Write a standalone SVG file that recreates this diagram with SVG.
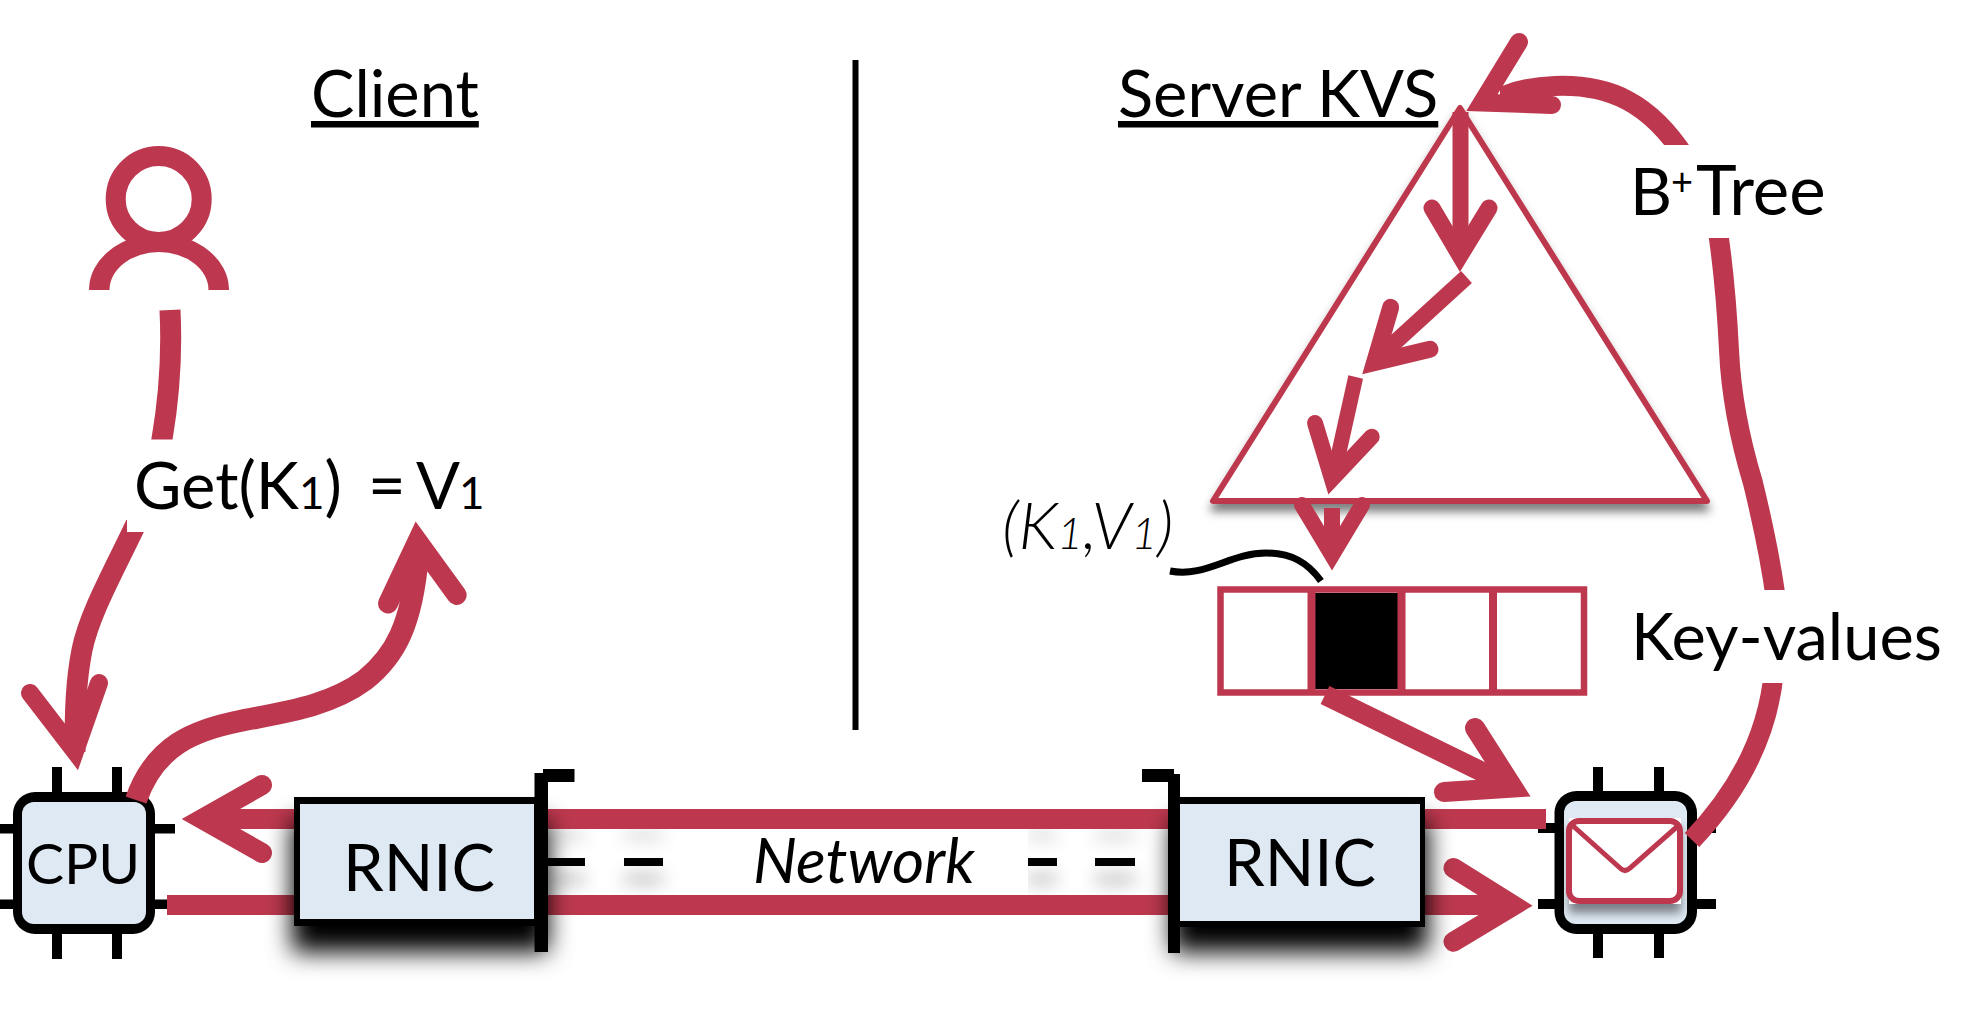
<svg xmlns="http://www.w3.org/2000/svg" width="1966" height="1022" viewBox="0 0 1966 1022">
<style>
text{font-family:Lato,"Liberation Sans",sans-serif;fill:#000}
.lbl{font-size:65px}
.sub{font-size:44px}
.u{text-decoration:underline;text-decoration-thickness:4px;text-underline-offset:4px}
.blk{fill:#000;stroke:none}
.chip{fill:#dfe9f3;stroke:none}
.c{fill:none;stroke:#bd384e;stroke-linecap:butt;stroke-linejoin:miter}
.h{fill:none;stroke:#bd384e;stroke-linecap:round;stroke-linejoin:miter;stroke-miterlimit:6}
.red{fill:#bd384e;stroke:none}
.sh{fill:#000;filter:url(#blur)}
</style>
<defs>
<filter id="blur" x="-30%" y="-40%" width="160%" height="180%"><feGaussianBlur stdDeviation="12"/></filter>
<filter id="ts" x="-10%" y="-10%" width="120%" height="125%"><feDropShadow dx="0" dy="8" stdDeviation="5" flood-color="#000" flood-opacity=".5"/></filter>
<filter id="es" x="-20%" y="-20%" width="140%" height="150%"><feDropShadow dx="0" dy="9" stdDeviation="5" flood-color="#000" flood-opacity=".45"/></filter>
<filter id="ds" x="-30%" y="-1000%" width="160%" height="2200%">
<feGaussianBlur in="SourceAlpha" stdDeviation="9" result="b"/>
<feOffset in="b" dy="17" result="o1"/><feOffset in="b" dy="-27" result="o2"/>
<feComponentTransfer in="o1" result="s1"><feFuncA type="linear" slope=".35"/></feComponentTransfer>
<feComponentTransfer in="o2" result="s2"><feFuncA type="linear" slope=".2"/></feComponentTransfer>
<feMerge><feMergeNode in="s1"/><feMergeNode in="s2"/><feMergeNode in="SourceGraphic"/></feMerge>
</filter>
<clipPath id="cutL"><polygon points="0,532 127,532 127,520 60,520 60,1000 300,1000 300,532"/></clipPath>
<clipPath id="cutP"><rect x="100" y="300" width="120" height="139.5"/></clipPath>
<clipPath id="cutR"><rect x="1500" y="40" width="400" height="105"/><rect x="1600" y="238" width="300" height="352"/><rect x="1600" y="683" width="300" height="200"/></clipPath>
</defs>

<g id="divider"><rect class="blk" x="852.500" y="60" width="6" height="670"/></g>

<g id="client-title"><text class="lbl u" x="311" y="117">Client</text></g>
<g id="server-title"><text class="lbl u" x="1118" y="117">Server KVS</text></g>

<g id="user">
<circle cx="158.700" cy="199" r="43" fill="none" stroke="#bd384e" stroke-width="20"/>
<path class="red" d="M89,290A70,56 0 0 1 229,290L208.500,290A49.500,38 0 0 0 109.500,290Z"/>
</g>

<g id="client-cpu">
<path class="blk" d="M52,767h10v30h-10zM112,767h10v30h-10zM52,930h10v29h-10zM112,930h10v29h-10zM0,824h20v9.500h-20zM150,824h25v9.500h-25zM0,899.500h20v9.500h-20zM150,899.500h25v9.500h-25z"/>
<rect class="blk" x="13" y="792" width="142" height="142" rx="22"/>
<rect class="chip" x="22" y="802" width="124" height="122" rx="12"/>
<text x="26" y="884" font-size="57">CPU</text>
</g>

<g id="server-cpu">
<path class="blk" d="M1593,767h10v30h-10zM1654,767h10v30h-10zM1593,930h10v28h-10zM1654,930h10v28h-10zM1538,823h20v10h-20zM1690,823h26v10h-26zM1538,899h20v10h-20zM1690,899h26v10h-26z"/>
<rect class="blk" x="1554.500" y="791" width="142.500" height="143" rx="22"/>
<rect class="chip" x="1564" y="801" width="123" height="123" rx="12"/>
<g id="envelope">
<rect x="1569" y="818" width="112" height="86" fill="#fff" filter="url(#es)"/>
<rect x="1569" y="821" width="111" height="80" rx="10" fill="#fff" stroke="#bd384e" stroke-width="6"/>
<path d="M1572,825L1620,868Q1625,873 1630,868L1679,825" fill="none" stroke="#bd384e" stroke-width="5"/>
</g>
</g>

<g id="btree"><path d="M1460,108L1213,501L1707,501Z" fill="#fff" stroke="#bd384e" stroke-width="6" stroke-linejoin="round" filter="url(#ts)"/></g>

<g id="kv-array">
<rect x="1315" y="593" width="83" height="96" fill="#000"/>
<rect x="1220.500" y="589.500" width="363.500" height="103" fill="none" stroke="#bd384e" stroke-width="6.500"/>
<path d="M1311.500,589V693M1401.500,589V693M1493,589V693" stroke="#bd384e" stroke-width="8" fill="none"/>
</g>

<g id="btree-label"><text class="lbl" x="1630" y="215">B<tspan font-size="38" x="1671" dy="-20">+</tspan><tspan x="1696" dy="20" font-size="69">Tree</tspan></text></g>
<g id="kv-label"><text class="lbl" x="1631" y="660">Key-values</text></g>
<g id="kv-pair-label"><text x="1002" y="549" font-size="66" font-style="italic" font-weight="300">(K<tspan font-size="44">1</tspan>,V<tspan font-size="44">1</tspan>)</text></g>
<g id="get-label"><text class="lbl" x="134" y="509">Get(K<tspan class="sub">1</tspan>)<tspan x="368">=</tspan><tspan x="416">V</tspan><tspan class="sub" x="459">1</tspan></text></g>

<g id="network-dashes" filter="url(#ds)">
<path class="blk" d="M548,858h37v8h-37zM624,858h39v8h-39zM1027,858h30v8h-30zM1095,858h40v8h-40z"/>
</g>

<g id="connectors">
<path class="c" stroke-width="21" d="M170,310C172,350 170,395 161,445" clip-path="url(#cutP)"/>
<path class="c" stroke-width="21" d="M145,505C120,560 90,610 82,650C76,680 75,710 75,752" clip-path="url(#cutL)"/>
<path class="h" stroke-width="18" d="M30,693L75,751.500L99,683"/>
<path class="c" stroke-width="22" d="M136,800C155,745 195,730 240,721C285,712 330,706 365,680C395,656 412,625 418,555"/>
<path class="h" stroke-width="20" d="M388,603.500L417.500,541L456.700,595"/>
<path class="c" stroke-width="20" d="M1546,819H205"/>
<path class="h" stroke-width="20" d="M262,785L202,819L262,853"/>
<path class="c" stroke-width="20" d="M167,905H1510"/>
<path class="h" stroke-width="20" d="M1453.500,868L1513.500,905.500L1453.500,941.700"/>
<path class="c" stroke-width="20" d="M1325,695L1505,783"/>
<path class="h" stroke-width="20" d="M1475,728L1513,787.500L1444,792"/>
<path class="c" stroke-width="20" d="M1685,157C1650,103 1610,84 1555,86C1530,87 1510,92 1495,100" clip-path="url(#cutR)"/>
<path class="h" stroke-width="18" d="M1519,42L1482,102.500L1552,105"/>
<path class="c" stroke-width="20" d="M1717,225C1724,270 1727,310 1729,350C1731,395 1740,440 1753,483C1762,520 1770,555 1776,600" clip-path="url(#cutR)"/>
<path class="c" stroke-width="20" d="M1774,670C1768,740 1735,795 1692,840" clip-path="url(#cutR)"/>
<path class="c" stroke-width="16" d="M1460.500,112V255"/>
<path class="h" stroke-width="17" d="M1432,208L1460,255.500L1489,208"/>
<path class="c" stroke-width="16" d="M1466.500,277L1380,356"/>
<path class="h" stroke-width="17" d="M1390.700,307.300L1374.500,362.500L1430,349.300"/>
<path class="c" stroke-width="15" d="M1355.700,377L1335,470"/>
<path class="h" stroke-width="16" d="M1315,423L1332,479L1371.700,436.700"/>
<path class="c" stroke-width="16" d="M1332,508V555"/>
<path class="h" stroke-width="16" d="M1302,505L1332,555L1362,505"/>
<path d="M1170,571C1205,578 1230,553 1266,553C1292,553 1308,563 1321,581" fill="none" stroke="#000" stroke-width="7"/>
</g>

<g id="rnic-client">
<rect class="sh" x="292" y="820" width="256" height="132"/>
<rect class="blk" x="294" y="797" width="250" height="129"/>
<rect class="chip" x="300" y="804" width="234" height="115"/>
<path class="blk" d="M534.500,773h13.500v179h-13.500zM543,769h31.500v13h-31.500z"/>
<text class="lbl" x="343" y="891">RNIC</text>
</g>
<g id="rnic-server">
<rect class="sh" x="1172" y="820" width="256" height="132"/>
<rect class="blk" x="1175" y="797" width="250" height="130"/>
<rect class="chip" x="1180" y="804" width="240" height="117"/>
<path class="blk" d="M1168,774h12v179h-12zM1142,769h32v13h-32z"/>
<text class="lbl" x="1224" y="886">RNIC</text>
</g>

<g id="network">
<rect x="701" y="829" width="327" height="66" fill="#fff"/>
<text x="753" y="883" font-size="62" font-style="italic">Network</text>
</g>
</svg>
